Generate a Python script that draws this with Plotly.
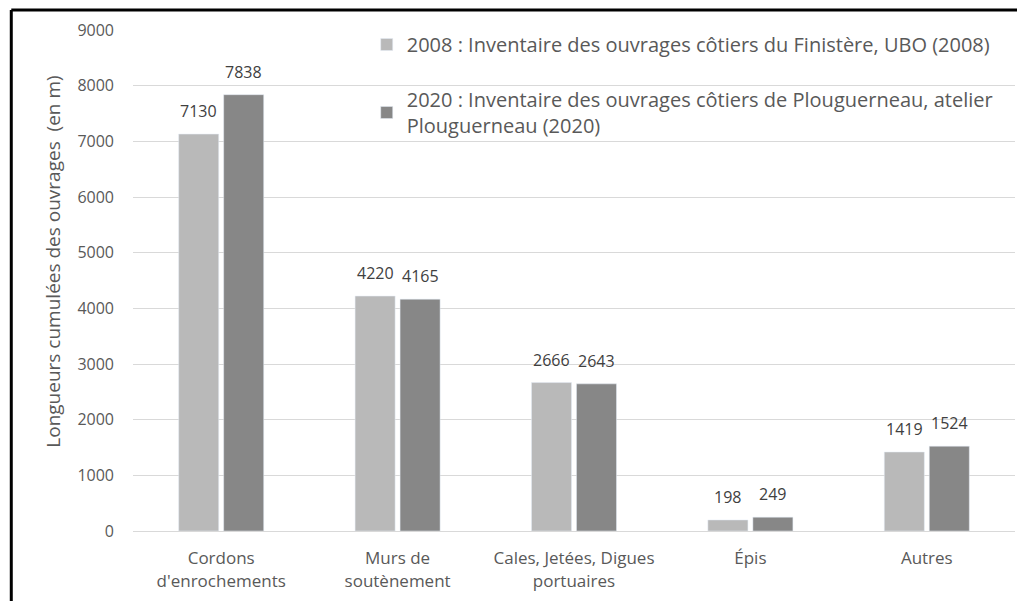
import plotly.graph_objects as go

categories = ["Cordons<br>d'enrochements", "Murs de<br>soutènement", "Cales, Jetées, Digues<br>portuaires", "Épis", "Autres"]
values_2008 = [7130, 4220, 2666, 198, 1419]
values_2020 = [7838, 4165, 2643, 249, 1524]
name_2008 = "2008 : Inventaire des ouvrages côtiers du Finistère, UBO (2008)"
name_2020 = "2020 : Inventaire des ouvrages côtiers de Plouguerneau, atelier<br>Plouguerneau (2020)"
y_title = "Longueurs cumulées des ouvrages  (en m)"

fig = go.Figure()
fig.add_trace(go.Bar(x=categories, y=values_2008, name=name_2008,
                     marker=dict(color="#b9b9b9"), legendgroup="a"))
fig.add_trace(go.Bar(x=categories, y=values_2020, name=name_2020,
                     marker=dict(color="#878787"), legendgroup="b"))

# value labels above the bars
annotations = []
for vals, shift in ((values_2008, -22.5), (values_2020, 22.5)):
    for cat, v in zip(categories, vals):
        annotations.append(dict(x=cat, y=v, xref="x", yref="y", text=str(v), showarrow=False,
                                xshift=shift, yshift=10, yanchor="bottom",
                                font=dict(family="Open Sans", size=16, color="#404040")))
annotations.append(dict(x=-0.091, y=0.537, xref="paper", yref="paper", text=y_title,
                        textangle=-90, showarrow=False, xanchor="center", yanchor="middle",
                        font=dict(family="Open Sans", size=19, color="#595959")))

fig.update_layout(
    width=1017, height=601,
    margin=dict(l=133, r=2, t=30, b=70),
    paper_bgcolor="white", plot_bgcolor="white",
    barmode="group", bargap=0.49, bargroupgap=0.11,
    font=dict(family="Open Sans", color="#595959"),
    legend=dict(
        x=0.265, y=1.01, xanchor="left", yanchor="top",
        bgcolor="rgba(0,0,0,0)", font=dict(size=20, color="#595959"),
        tracegroupgap=26, itemwidth=30,
    ),
    xaxis=dict(tickfont=dict(size=17, color="#595959"), showline=True,
               linecolor="#d9d9d9", linewidth=1, ticks="", ticklabelstandoff=12),
    yaxis=dict(range=[0, 9000], dtick=1000, showgrid=True, gridcolor="#d9d9d9",
               zeroline=False, tickfont=dict(size=16, color="#595959"),
               ticklabelstandoff=18),
    annotations=annotations,
    shapes=[
        dict(type="line", xref="paper", yref="paper", x0=-0.138, x1=1.01, y0=1.04, y1=1.04,
             line=dict(color="black", width=3)),
        dict(type="line", xref="paper", yref="paper", x0=-0.138, x1=-0.138, y0=1.04, y1=-0.2,
             line=dict(color="black", width=3)),
    ],
)

fig.write_html("out.html", config={"displayModeBar": False},
               post_script="document.body.style.margin='0';document.body.style.overflow='hidden';")
